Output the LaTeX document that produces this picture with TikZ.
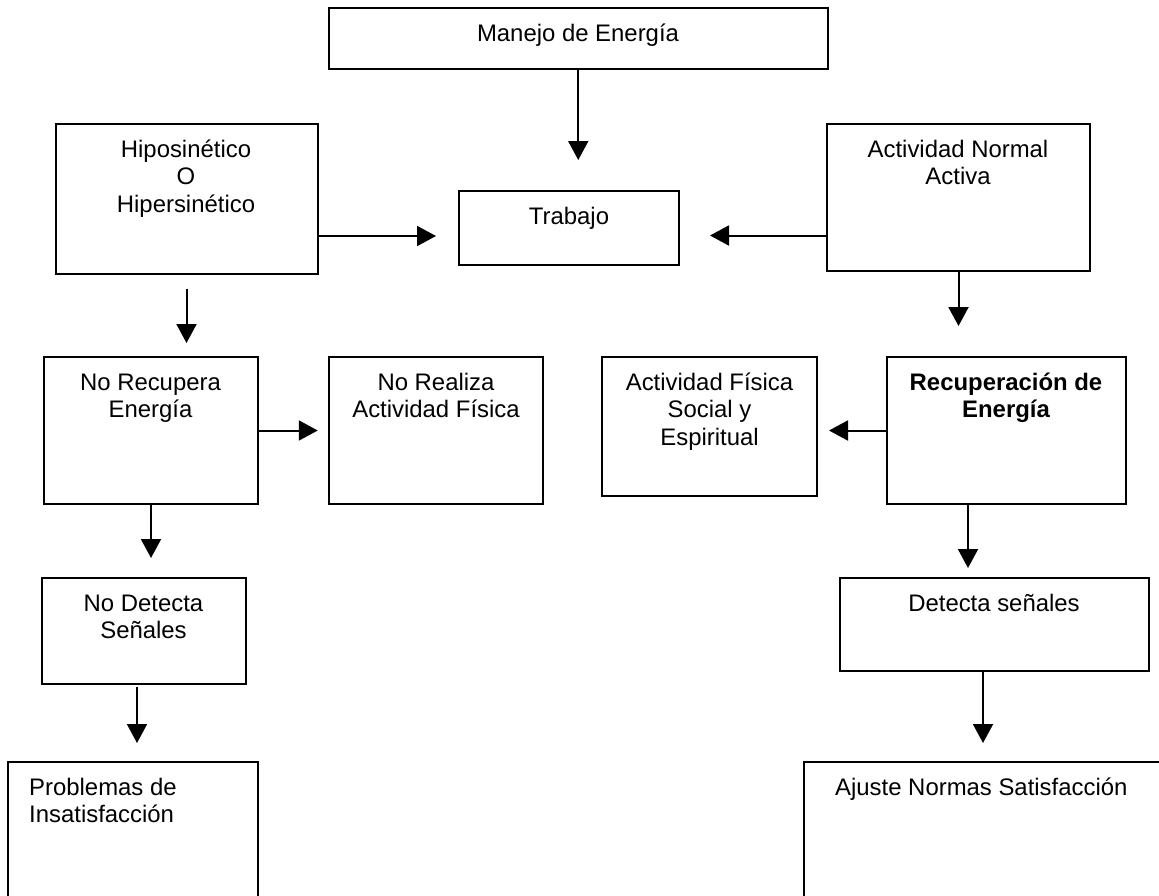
\documentclass[tikz,border=0pt]{standalone}
\usepackage{fontspec}
\setmainfont{Liberation Sans}
\usetikzlibrary{arrows.meta,calc}

\begin{document}
\begin{tikzpicture}[x=1pt,y=-1pt,
        caja/.style={draw, line width=2pt, inner sep=0pt, outer sep=0pt},
        texto/.style={anchor=base, align=center, inner sep=0pt, font=\fontsize{23.9}{27.5}\selectfont},
        flecha/.style={line width=2pt, -{Triangle[length=19pt,width=20pt]}}]
        \useasboundingbox (0,0) rectangle (1159,895);
        \clip (0,0) rectangle (1159,895);

        % Cajas
        \node[caja, minimum width=499.5pt, minimum height=61pt] (manejo) at (578.25,38.5) {};
        \node[caja, minimum width=220pt, minimum height=74pt] (trab) at (569,228) {};
        \node[caja, minimum width=262pt, minimum height=150pt] (hipo) at (186.5,199) {};
        \node[caja, minimum width=263pt, minimum height=147pt] (act) at (958.5,197.5) {};
        \node[caja, minimum width=214pt, minimum height=147pt] (norec) at (151,430.5) {};
        \node[caja, minimum width=214.5pt, minimum height=147pt] (noreal) at (436,430.5) {};
        \node[caja, minimum width=215pt, minimum height=139pt] (actfis) at (709.5,426.5) {};
        \node[caja, minimum width=239pt, minimum height=147pt] (recup) at (1006.5,430.5) {};
        \node[caja, minimum width=204pt, minimum height=106pt] (nodet) at (144,631) {};
        \node[caja, minimum width=309pt, minimum height=93pt] (det) at (994.5,624.5) {};
        \node[caja, minimum width=250pt, minimum height=158pt] (prob) at (133,841) {};
        \node[caja, minimum width=366pt, minimum height=158pt] (ajus) at (987,841) {};

        % Textos (la base es la de la ultima linea)
        \node[texto] (manejo-t) at (578,41) {Manejo de Energía};
        \node[texto] (trab-t) at (569,224.5) {Trabajo};
        \node[texto] (hipo-t) at (186,212) {Hiposinético\\O\\Hipersinético};
        \node[texto] (act-t) at (958,184.5) {Actividad Normal\\Activa};
        \node[texto] (norec-t) at (150.5,417.5) {No Recupera\\Energía};
        \node[texto] (noreal-t) at (436,417.5) {No Realiza\\Actividad Física};
        \node[texto] (actfis-t) at (709.5,445) {Actividad Física\\Social y\\Espiritual};
        \node[texto, font=\fontsize{23.9}{27.5}\selectfont\bfseries] (recup-t) at (1006,417.5) {Recuperación de\\Energía};
        \node[texto] (nodet-t) at (143.5,638.5) {No Detecta\\Señales};
        \node[texto] (det-t) at (994,611) {Detecta señales};
        \node[texto, anchor=base west, align=left] (prob-t) at (29,822.5) {Problemas de\\Insatisfacción};
        \node[texto, anchor=base west] (ajus-t) at (835,795) {Ajuste Normas Satisfacción};

        % Flechas
        \draw[flecha, shorten >=31pt] (manejo.south) -- (manejo.south |- trab.north);
        \draw[flecha, shorten >=23pt] ($(hipo.east)+(0,37)$) -- ($(trab.west)+(0,8)$);
        \draw[flecha, shorten >=31pt] ($(act.west)+(0,38)$) -- ($(trab.east)+(0,7.5)$);
        \draw[flecha, shorten <=15pt, shorten >=14pt] (hipo.south) -- (hipo.south |- norec.north);
        \draw[flecha, shorten >=11pt] (norec.east) -- (noreal.west);
        \draw[flecha, shorten >=31pt] (act.south) -- (act.south |- recup.north);
        \draw[flecha, shorten >=12pt] (recup.west) -- (recup.west -| actfis.east);
        \draw[flecha, shorten >=20pt] (norec.south) -- (norec.south |- nodet.north);
        \draw[flecha, shorten >=10pt] ($(recup.south)+(-38.5,0)$) -- ($(recup.south |- det.north)+(-38.5,0)$);
        \draw[flecha, shorten <=3pt, shorten >=19pt] ($(nodet.south)+(-7,0)$) -- ($(nodet.south |- prob.north)+(-7,0)$);
        \draw[flecha, shorten >=19pt] ($(det.south)+(-11.5,0)$) -- ($(det.south |- ajus.north)+(-11.5,0)$);
\end{tikzpicture}
\end{document}
